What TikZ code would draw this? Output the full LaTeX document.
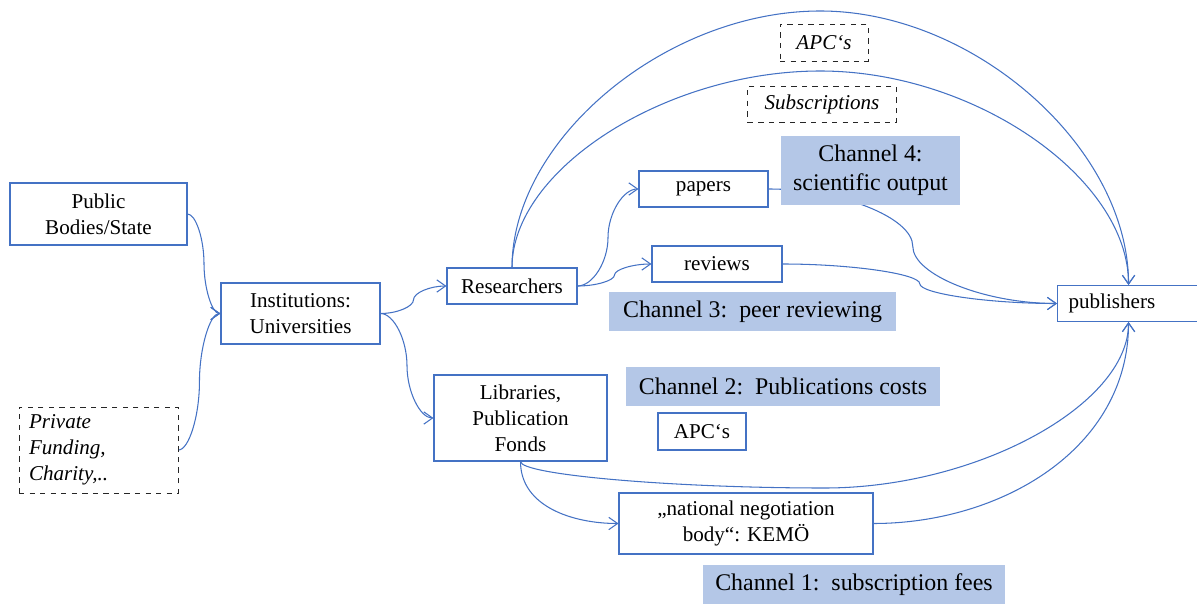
\documentclass[tikz,border=0pt]{standalone}
\usepackage{fontspec}
\setmainfont{Liberation Serif}
\usetikzlibrary{arrows.meta,calc,backgrounds}
\definecolor{lineblue}{HTML}{4472C4}
\definecolor{chanblue}{HTML}{B4C7E7}
\tikzset{
    box/.style={draw=lineblue, line width=0.6pt, inner sep=0pt, align=center, font=\fontsize{12}{14.8}\selectfont},
    dbox/.style={draw=black!85, dashed, line width=0.5pt, inner sep=0pt, align=center, font=\fontsize{12}{14.8}\selectfont\itshape},
    chan/.style={fill=chanblue, inner sep=0pt, align=center, font=\fontsize{13.6}{16.5}\selectfont},
    link/.style={draw=lineblue, line width=0.6pt},
    hcon/.style={to path={let \p1=(\tikztostart), \p2=(\tikztotarget) in
        .. controls ({0.75*\x1+0.25*\x2}, \y1) and ({0.5*\x1+0.5*\x2}, {0.75*\y1+0.25*\y2})
        .. ({0.5*\x1+0.5*\x2}, {0.5*\y1+0.5*\y2})
        .. controls ({0.5*\x1+0.5*\x2}, {0.25*\y1+0.75*\y2}) and ({0.25*\x1+0.75*\x2}, \y2)
        .. (\tikztotarget)}},
    vcon/.style={to path={let \p1=(\tikztostart), \p2=(\tikztotarget) in
        .. controls (\x1, {0.5*\y1+0.5*#1*1cm}) and ({0.75*\x1+0.25*\x2}, #1cm)
        .. ({0.5*\x1+0.5*\x2}, #1cm)
        .. controls ({0.25*\x1+0.75*\x2}, #1cm) and (\x2, {0.5*\y2+0.5*#1*1cm})
        .. (\tikztotarget)}}
}
\begin{document}
\begin{tikzpicture}[>={Straight Barb[length=5pt,width=7pt]}]
        \useasboundingbox (0, 0) rectangle (23.94, 12.06);
        % funding side
        \node[box, minimum width=3.54cm, minimum height=1.24cm] (pub) at (1.97, 7.78) {Public\\Bodies/State};
        \node[dbox, align=left, text width=2.78cm, inner xsep=0.2cm, minimum height=1.72cm] (priv) at (1.97, 3.06) {Private\\Funding,\\Charity,..};
        \node[box, minimum width=3.18cm, minimum height=1.22cm] (inst) at (6.01, 5.79) {Institutions:\\Universities};
        \node[box, minimum width=2.6cm, minimum height=0.72cm] (res) at (10.24, 6.34) {Researchers};
        \node[box, minimum width=3.46cm, minimum height=1.72cm] (lib) at (10.41, 3.70) {Libraries,\\Publication\\Fonds};
        % output side
        \node[box, minimum width=2.58cm, minimum height=0.72cm] (papers) at (14.07, 8.28) {papers};
        \node[box, minimum width=2.6cm, minimum height=0.72cm] (reviews) at (14.34, 6.78) {reviews};
        \node[box, minimum width=1.76cm, minimum height=0.74cm] (apcb) at (14.04, 3.43) {APC‘s};
        \node[box, minimum width=5.08cm, minimum height=1.22cm] (nat) at (14.92, 1.59) {„national negotiation\\body“: KEMÖ};
        \node[box, anchor=west, align=left, text width=2.4cm, inner xsep=0.22cm, minimum height=0.72cm] (publ) at (21.14, 5.99) {publishers};
        \node[dbox, minimum width=1.76cm, minimum height=0.74cm] (apct) at (16.48, 11.21) {APC‘s};
        \node[dbox, minimum width=2.97cm, minimum height=0.73cm] (subs) at (16.44, 9.97) {Subscriptions};
        % channels
        \node[chan, minimum width=3.58cm, minimum height=1.38cm] (chfour) at (17.41, 8.65) {Channel 4:\\scientific output};
        \node[chan, minimum width=5.74cm, minimum height=0.78cm] (chthree) at (15.05, 5.83) {Channel 3:\ \ peer reviewing};
        \node[chan, minimum width=6.28cm, minimum height=0.78cm] (chtwo) at (15.66, 4.33) {Channel 2:\ \ Publications costs};
        \node[chan, minimum width=6.04cm, minimum height=0.78cm] (chone) at (17.08, 0.37) {Channel 1:\ \ subscription fees};
        \begin{scope}[on background layer]
        \draw [link, ->] (pub.east) to[hcon] (inst.west);
        \draw [link, ->] (priv.east) to[hcon] (inst.west);
        \draw [link, ->] (inst.east) to[hcon] (res.west);
        \draw [link, ->] (inst.east) to[hcon] (lib.west);
        \draw [link, ->] (res.east) to[hcon] (papers.west);
        \draw [link, ->] (res.east) to[hcon] (reviews.west);
        \draw [link, ->] (papers.east) to[hcon] (publ.west);
        \draw [link, ->] (reviews.east) to[hcon] (publ.west);
        \draw [link, ->] (res.north) to[vcon=11.84] (publ.north);
        \draw [link, ->] (res.north) to[vcon=10.64] (publ.north);
        \draw [link, ->] (lib.south) to[vcon=2.30] (publ.south);
        \draw [link, ->] (lib.south) to[out=-90, in=180] (nat.west);
        \draw [link, ->] (nat.east) to[out=0, in=-90] (publ.south);
        \end{scope}
    \end{tikzpicture}
\end{document}
